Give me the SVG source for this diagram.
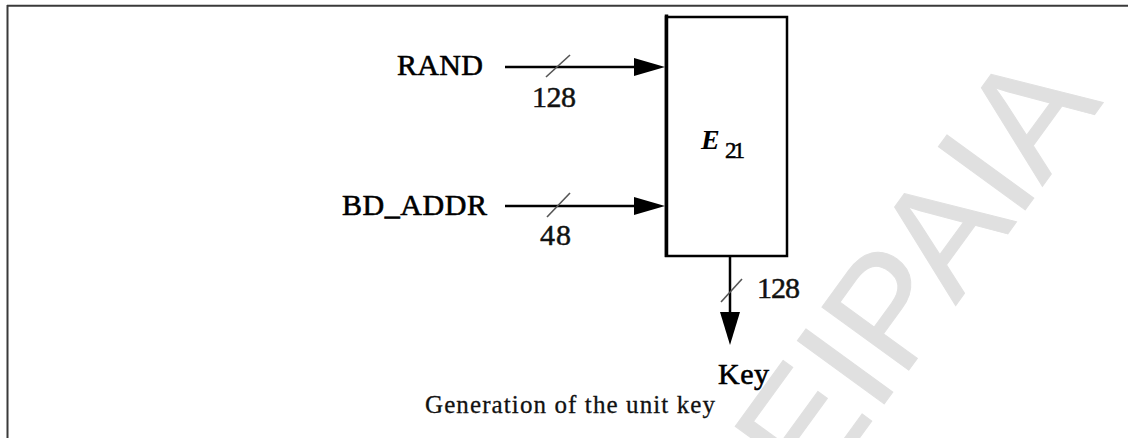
<svg xmlns="http://www.w3.org/2000/svg" width="1128" height="438" viewBox="0 0 1128 438">
  <style>
    .lbl { font-family: "Liberation Serif", "Times New Roman", serif; font-size: 30px; fill: #000; stroke: #000; stroke-width: 0.6px; }
    .bits { font-family: "Liberation Serif", "Times New Roman", serif; font-size: 30px; fill: #111; stroke: #111; stroke-width: 0.5px; }
    .wire { stroke: #000; stroke-width: 2.5; fill: none; }
    .tick { stroke: #555; stroke-width: 1.6; fill: none; }
    .head { fill: #000; stroke: none; }
    .wm { font-family: "Liberation Sans", Arial, sans-serif; font-size: 156px; fill: #e0e0e0; stroke: #e0e0e0; stroke-width: 1px; }
  </style>
  <rect x="0" y="0" width="1128" height="438" fill="#ffffff"/>

  <g id="watermark">
    <text class="wm" transform="translate(814.6,499.7) rotate(-54)">EIPAIA</text>
  </g>

  <g id="frame">
    <line x1="7" y1="5.7" x2="1128" y2="5.7" stroke="#3a3a3a" stroke-width="2"/>
    <line x1="7.5" y1="5" x2="7.5" y2="438" stroke="#3a3a3a" stroke-width="2"/>
  </g>

  <g id="connectors">
    <!-- RAND -> E21 -->
    <line class="wire" x1="505" y1="67" x2="636" y2="67"/>
    <polygon class="head" points="634,58 665,67 634,76"/>
    <line class="tick" x1="546" y1="77" x2="570" y2="55"/>
    <text class="bits" x="532" y="107" textLength="44">128</text>
    <!-- BD_ADDR -> E21 -->
    <line class="wire" x1="505" y1="206" x2="636" y2="206"/>
    <polygon class="head" points="634,197 665,206 634,215"/>
    <line class="tick" x1="547" y1="217" x2="570" y2="193"/>
    <text class="bits" x="540" y="245" textLength="31">48</text>
    <!-- E21 -> Key -->
    <line class="wire" x1="730" y1="256" x2="730" y2="314"/>
    <polygon class="head" points="720,312 740,312 730,345"/>
    <line class="tick" x1="721" y1="302" x2="742" y2="279"/>
    <text class="bits" x="757" y="298" textLength="43">128</text>
  </g>

  <g id="rand">
    <text class="lbl" x="397" y="75" textLength="86">RAND</text>
  </g>

  <g id="bd_addr">
    <text class="lbl" x="342" y="215" textLength="145">BD_ADDR</text>
  </g>

  <g id="e21">
    <rect x="666" y="17" width="121" height="239" fill="none" stroke="#000" stroke-width="2.5"/>
    <line x1="666.5" y1="14.5" x2="666.5" y2="257" stroke="#000" stroke-width="3.5"/>
    <text x="701" y="149" font-family="Liberation Serif, 'Times New Roman', serif" font-size="28" font-style="italic" font-weight="bold" fill="#000">E</text>
    <text x="725" y="158" font-family="Liberation Serif, 'Times New Roman', serif" font-size="23" fill="#000" stroke="#000" stroke-width="0.5" textLength="20">21</text>
  </g>

  <g id="key">
    <text class="lbl" x="718" y="384" textLength="51">Key</text>
  </g>

  <g id="caption">
    <text x="425" y="413" font-family="Liberation Serif, 'Times New Roman', serif" font-size="25" fill="#111" stroke="#111" stroke-width="0.3" textLength="290">Generation of the unit key</text>
  </g>
</svg>
